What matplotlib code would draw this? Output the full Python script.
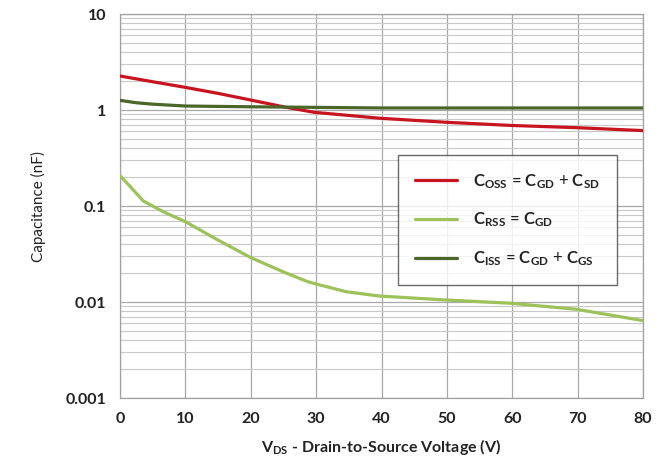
import matplotlib
matplotlib.use("Agg")
import matplotlib.pyplot as plt
from matplotlib.ticker import LogLocator, FixedLocator, FixedFormatter, NullFormatter

plt.rcParams['font.family'] = ['Lato', 'DejaVu Sans']
plt.rcParams['mathtext.fontset'] = 'custom'
plt.rcParams['mathtext.rm'] = 'Lato'
plt.rcParams['mathtext.bf'] = 'Lato:bold'
plt.rcParams['mathtext.it'] = 'Lato:italic'

# Output capacitance C_OSS (nF) vs V_DS (V)
vds_oss = [0, 5, 10, 15, 20, 25, 29.7, 39.8, 49.9, 59.9, 70, 80]
c_oss = [2.26, 1.97, 1.72, 1.49, 1.27, 1.08, 0.946, 0.82, 0.745, 0.69, 0.654, 0.61]

# Reverse transfer capacitance C_RSS (nF)
vds_rss = [0, 1.5, 3.55, 6.6, 10, 14.7, 20, 24.9, 28.7, 30, 34.6, 39.6, 49.8, 59.8, 69.8, 80]
c_rss = [0.207, 0.161, 0.113, 0.0872, 0.0687, 0.0453, 0.029, 0.0207, 0.0163, 0.0154,
         0.0128, 0.01155, 0.0105, 0.0097, 0.0084, 0.0064]

# Input capacitance C_ISS (nF)
vds_iss = [0, 2.5, 5, 10, 20, 30, 40, 50, 60, 70, 80]
c_iss = [1.26, 1.19, 1.15, 1.10, 1.08, 1.065, 1.05, 1.05, 1.05, 1.05, 1.05]

x_ticks = [0, 10, 20, 30, 40, 50, 60, 70, 80]
y_ticks = [0.001, 0.01, 0.1, 1, 10]
y_tick_labels = ['0.001', '0.01', '0.1', '1', '10']

fig = plt.figure(figsize=(6.63, 4.65), dpi=100)
ax = fig.add_axes([120 / 663, 67 / 465, 523 / 663, 384 / 465])

ax.set_yscale('log')
ax.set_xlim(0, 80)
ax.set_ylim(0.001, 10)

l1, = ax.plot(vds_oss, c_oss, color='#c8141e', lw=2.3, solid_capstyle='round',
              label=r'$\mathbf{C_{OSS}}$ = $\mathbf{C_{GD}}$ + $\mathbf{C_{SD}}$', zorder=3)
l2, = ax.plot(vds_rss, c_rss, color='#9dc25a', lw=2.3, solid_capstyle='round',
              label=r'$\mathbf{C_{RSS}}$ = $\mathbf{C_{GD}}$', zorder=3)
l3, = ax.plot(vds_iss, c_iss, color='#4a6628', lw=2.3, solid_capstyle='round',
              label=r'$\mathbf{C_{ISS}}$ = $\mathbf{C_{GD}}$ + $\mathbf{C_{GS}}$', zorder=3)

ax.xaxis.set_major_locator(FixedLocator(x_ticks))
ax.yaxis.set_major_locator(FixedLocator(y_ticks))
ax.yaxis.set_major_formatter(FixedFormatter(y_tick_labels))
ax.yaxis.set_minor_locator(LogLocator(base=10, subs=range(2, 10)))
ax.yaxis.set_minor_formatter(NullFormatter())

ax.grid(True, which='major', axis='both', color='#a8a8a8', lw=0.9, zorder=0)
ax.grid(True, which='minor', axis='y', color='#c8c8c8', lw=0.8, zorder=0)
ax.set_axisbelow(True)

for s in ax.spines.values():
    s.set_color('#a0a0a0')
    s.set_linewidth(0.9)

ax.tick_params(axis='both', which='both', length=0, pad=10)
for lab in ax.get_xticklabels() + ax.get_yticklabels():
    lab.set_fontweight('bold')
    lab.set_fontsize(11.5)
    lab.set_color('#222222')

ax.set_ylabel('Capacitance (nF)', fontsize=11, color='#222222', labelpad=14)
ax.set_xlabel(r'V$_{\mathregular{DS}}$ - Drain-to-Source Voltage (V)', fontsize=11.5,
              fontweight='bold', color='#222222', labelpad=8)

leg = ax.legend(handles=[l1, l2, l3], loc='upper left', bbox_to_anchor=(0.532, 0.632),
                frameon=True, fancybox=False, fontsize=12, handlelength=2.5,
                labelspacing=1.2, borderpad=1.0, handletextpad=1.0, borderaxespad=0,
                edgecolor='#444444')
leg.get_frame().set_linewidth(1.0)
for t in leg.get_texts():
    t.set_color('#222222')

fig.savefig('out.png', dpi=100)
